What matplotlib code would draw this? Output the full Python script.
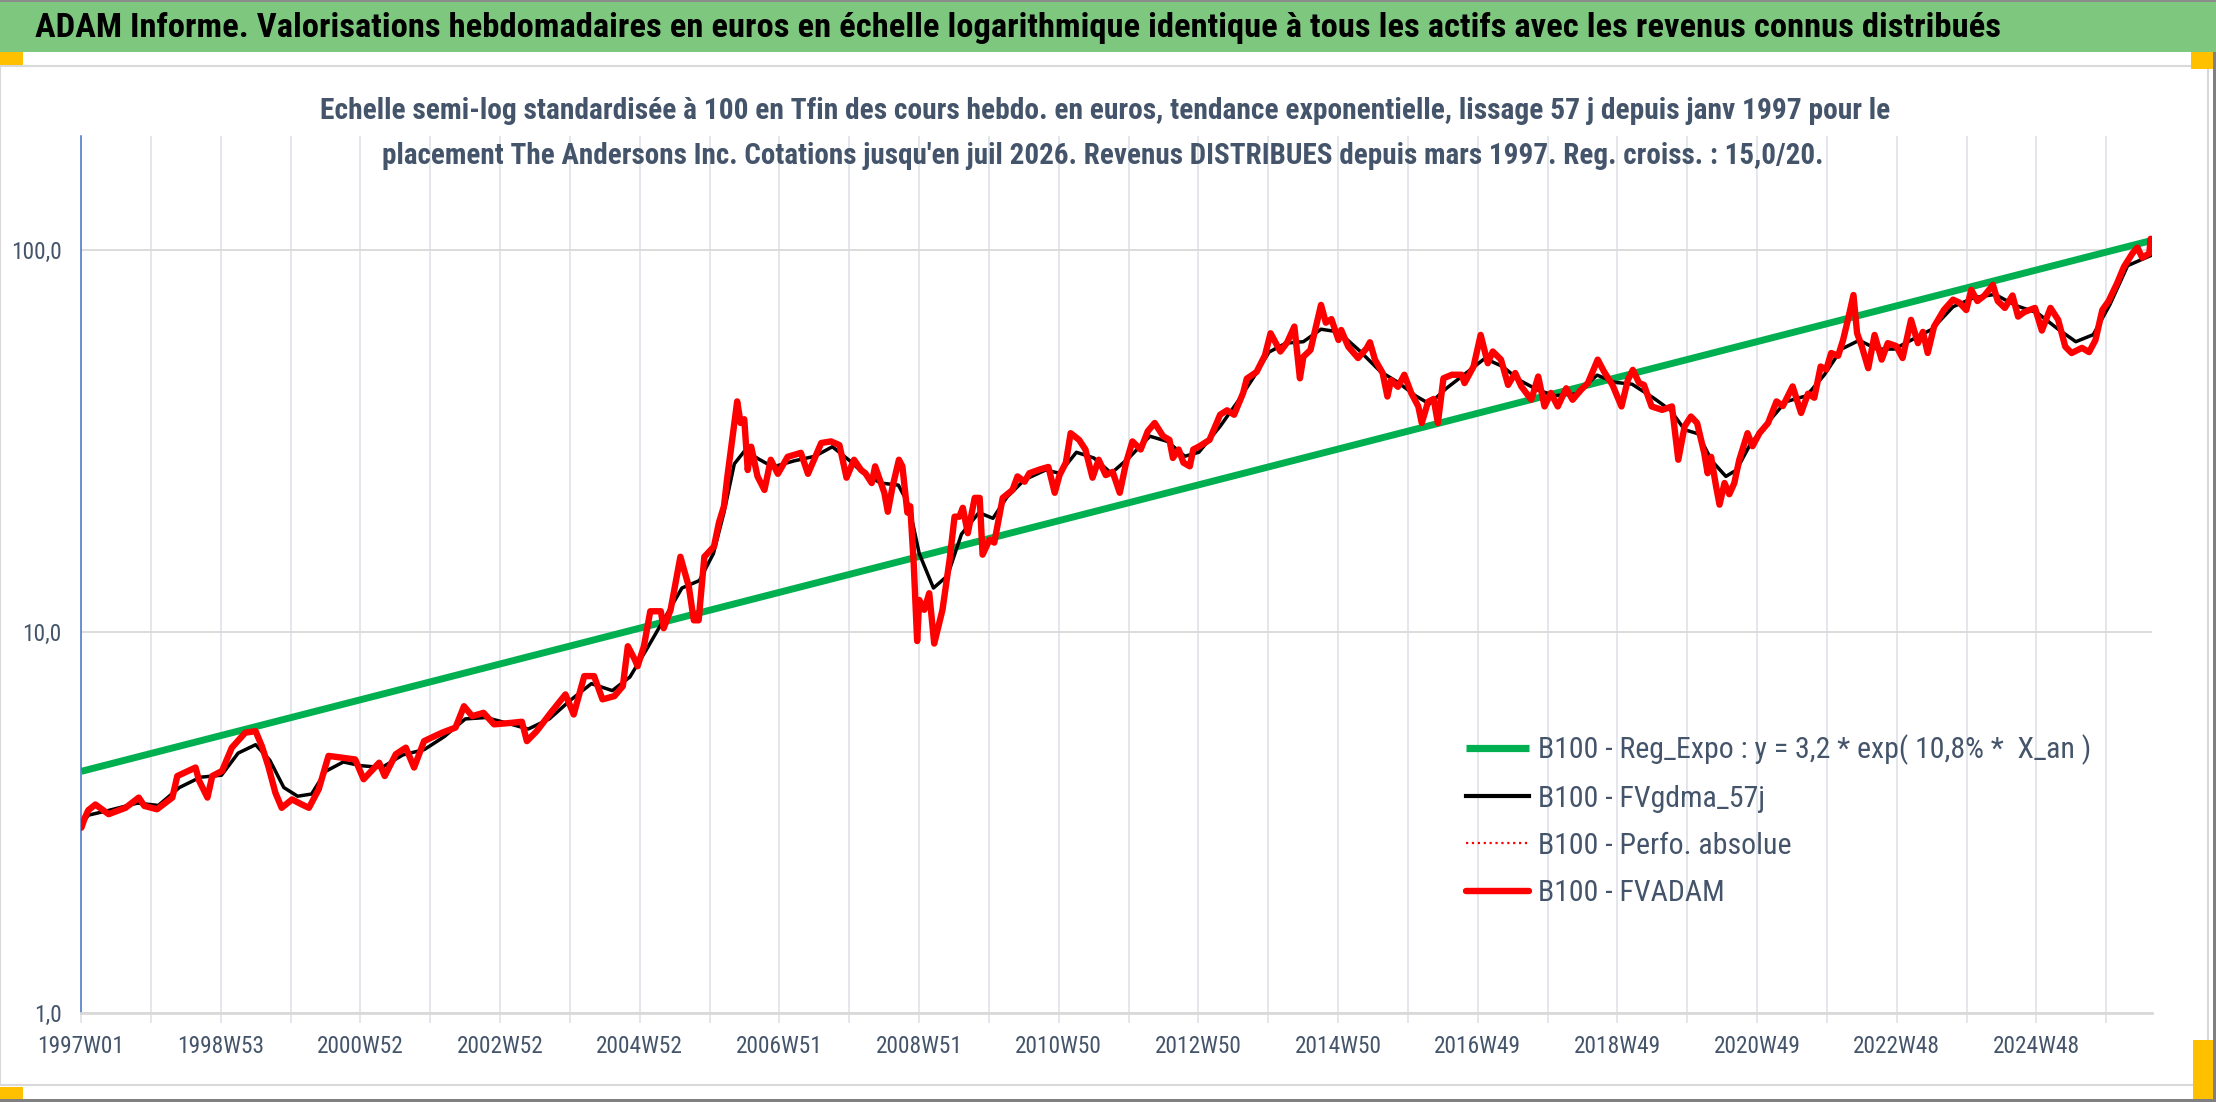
import numpy as np
import pandas as pd
import matplotlib
matplotlib.use("Agg")
import matplotlib.pyplot as plt
import matplotlib.font_manager as fm
from matplotlib.patches import Rectangle
from matplotlib.ticker import NullLocator

# ---- data (decimal years, base 100 at the end) ----
red_year = [
    1997.00, 1997.05, 1997.10, 1997.20, 1997.39, 1997.63, 1997.82, 1997.90, 1998.08, 1998.30, 1998.37, 1998.63, 1998.68, 1998.80, 1998.87,
    1999.01, 1999.15, 1999.34, 1999.49, 1999.58, 1999.67, 1999.77, 1999.86, 2000.01, 2000.15, 2000.25, 2000.39, 2000.53, 2000.72, 2000.91,
    2001.03, 2001.25, 2001.33, 2001.49, 2001.63, 2001.75, 2001.89, 2002.15, 2002.34, 2002.46, 2002.58, 2002.74, 2002.89,
    2003.13, 2003.29, 2003.36, 2003.50, 2003.70, 2003.91, 2004.03, 2004.18, 2004.32, 2004.44, 2004.61, 2004.73, 2004.80, 2004.90, 2004.94,
    2005.03, 2005.12, 2005.27, 2005.31, 2005.41, 2005.55, 2005.67, 2005.74, 2005.81, 2005.89,
    2006.03, 2006.10, 2006.17, 2006.22, 2006.32, 2006.36, 2006.41, 2006.46, 2006.51, 2006.56, 2006.65, 2006.75, 2006.84, 2006.94,
    2007.08, 2007.27, 2007.37, 2007.56, 2007.70, 2007.82, 2007.92,
    2008.03, 2008.13, 2008.19, 2008.28, 2008.33, 2008.46, 2008.51, 2008.58, 2008.67, 2008.72, 2008.79, 2008.83, 2008.88, 2008.93, 2008.96,
    2009.03, 2009.10, 2009.17, 2009.29, 2009.39, 2009.46, 2009.53, 2009.58, 2009.65, 2009.75, 2009.82, 2009.86, 2009.96,
    2010.03, 2010.15, 2010.29, 2010.36, 2010.46, 2010.53, 2010.68, 2010.80, 2010.89, 2010.96,
    2011.05, 2011.12, 2011.24, 2011.33, 2011.43, 2011.52, 2011.62, 2011.72, 2011.82, 2011.91,
    2012.00, 2012.12, 2012.22, 2012.32, 2012.44, 2012.53, 2012.58, 2012.66, 2012.73, 2012.82, 2012.87, 2012.96,
    2013.10, 2013.25, 2013.35, 2013.45, 2013.58, 2013.63, 2013.77, 2013.89, 2013.97,
    2014.11, 2014.21, 2014.31, 2014.39, 2014.44, 2014.54, 2014.69, 2014.76, 2014.84, 2014.94, 2014.98,
    2015.08, 2015.22, 2015.34, 2015.39, 2015.46, 2015.57, 2015.64, 2015.69, 2015.79, 2015.88, 2015.98,
    2016.08, 2016.13, 2016.22, 2016.30, 2016.36, 2016.44, 2016.56, 2016.70, 2016.74, 2016.87, 2016.97,
    2017.07, 2017.14, 2017.26, 2017.36, 2017.46, 2017.55, 2017.69, 2017.79, 2017.88, 2017.97,
    2018.07, 2018.19, 2018.28, 2018.40, 2018.50, 2018.64, 2018.73, 2018.85, 2018.98,
    2019.07, 2019.14, 2019.23, 2019.30, 2019.41, 2019.56, 2019.70, 2019.79, 2019.88, 2019.97,
    2020.06, 2020.16, 2020.21, 2020.26, 2020.33, 2020.38, 2020.45, 2020.52, 2020.59, 2020.66, 2020.78, 2020.85, 2020.95,
    2021.07, 2021.19, 2021.28, 2021.42, 2021.54, 2021.64, 2021.73, 2021.82, 2021.90, 2021.97,
    2022.07, 2022.14, 2022.22, 2022.29, 2022.34, 2022.41, 2022.50, 2022.59, 2022.69, 2022.78, 2022.90, 2022.99,
    2023.11, 2023.21, 2023.28, 2023.35, 2023.44, 2023.58, 2023.71, 2023.80, 2023.90, 2023.97,
    2024.06, 2024.16, 2024.28, 2024.35, 2024.45, 2024.56, 2024.64, 2024.73, 2024.88, 2024.98,
    2025.10, 2025.21, 2025.31, 2025.40, 2025.55, 2025.65, 2025.74, 2025.84, 2025.93,
    2026.05, 2026.15, 2026.27, 2026.34, 2026.41, 2026.51, 2026.53, 2026.55,
]
red_value = [
    3.06, 3.25, 3.40, 3.52, 3.32, 3.45, 3.67, 3.49, 3.42, 3.67, 4.18, 4.40, 4.07, 3.67, 4.18,
    4.31, 4.96, 5.43, 5.48, 5.00, 4.44, 3.78, 3.45, 3.63, 3.52, 3.45, 3.86, 4.72, 4.67, 4.62,
    4.10, 4.53, 4.18, 4.77, 4.96, 4.40, 5.16, 5.43, 5.60, 6.37, 6.00, 6.12, 5.71,
    5.76, 5.80, 5.16, 5.48, 6.12, 6.84, 6.06, 7.64, 7.64, 6.64, 6.77, 7.19, 9.15, 8.45, 8.11,
    9.15, 11.3, 11.3, 10.2, 11.4, 15.7, 13.1, 10.7, 10.7, 15.7,
    16.7, 19.3, 21.3, 25.5, 35.2, 40.1, 35.2, 36.0, 26.5, 30.5, 25.5, 23.5, 28.2, 25.9,
    28.7, 29.4, 25.9, 31.2, 31.5, 30.8, 25.3,
    28.2, 26.5, 26.0, 24.5, 27.1, 23.1, 20.6, 24.0, 28.2, 27.1, 20.5, 21.3, 15.1, 9.44, 12.1,
    11.4, 12.6, 9.3, 11.4, 15.4, 20.0, 20.0, 21.1, 18.1, 22.4, 22.4, 15.9, 17.4,
    17.1, 22.4, 23.5, 25.5, 24.7, 26.0, 26.6, 27.0, 23.1, 25.7,
    27.7, 33.1, 31.8, 30.0, 25.3, 28.2, 25.7, 26.2, 23.1, 27.7,
    31.5, 30.0, 33.5, 35.2, 32.5, 31.8, 28.5, 30.0, 27.7, 27.1, 30.0, 30.6,
    31.8, 37.0, 38.0, 37.0, 42.2, 46.0, 47.9, 53.0, 60.5,
    54.2, 57.3, 63.0, 46.1, 52.5, 54.7, 71.8, 64.5, 65.9, 58.1, 61.7,
    55.8, 52.1, 55.2, 57.3, 51.6, 47.6, 41.3, 45.6, 43.8, 47.1, 42.2,
    38.9, 35.2, 40.0, 40.7, 35.2, 46.1, 47.1, 47.1, 44.8, 49.5, 59.9,
    50.5, 54.2, 51.6, 44.3, 47.6, 43.9, 40.5, 46.6, 38.9, 42.2,
    38.9, 43.4, 40.5, 43.0, 44.8, 51.6, 48.0, 44.3, 38.9,
    45.6, 48.5, 44.8, 44.3, 38.9, 38.1, 38.9, 28.2, 34.5, 36.6,
    35.2, 29.4, 26.0, 28.7, 24.0, 21.5, 24.5, 22.9, 24.5, 28.2, 33.1, 30.6, 33.1,
    35.2, 40.1, 39.0, 43.9, 37.4, 42.0, 41.0, 49.5, 48.6, 53.7,
    52.8, 58.1, 66.9, 76.2, 60.5, 55.8, 49.0, 59.9, 51.6, 57.0, 56.0, 52.1,
    65.6, 57.0, 61.0, 53.7, 63.0, 69.6, 74.1, 72.8, 69.6, 78.6,
    73.5, 76.0, 81.0, 73.5, 70.5, 76.0, 66.9, 68.8, 70.5, 61.5,
    70.5, 65.6, 55.8, 53.7, 55.4, 54.0, 58.0, 69.6, 73.5,
    81.8, 90.4, 98.0, 101.5, 95.5, 98.0, 107.0, 100.0,
]

black_year = [
    1997.00, 1997.10, 1997.40, 1997.80, 1998.10, 1998.40, 1998.70, 1999.00, 1999.24, 1999.49, 1999.69, 1999.89,
    2000.09, 2000.29, 2000.49, 2000.74, 2000.99, 2001.29, 2001.59, 2001.89, 2002.18, 2002.48, 2002.78,
    2003.08, 2003.38, 2003.68, 2003.98, 2004.28, 2004.58, 2004.83, 2005.07, 2005.32, 2005.57, 2005.82,
    2006.02, 2006.17, 2006.32, 2006.47, 2006.67, 2006.87, 2007.17, 2007.47, 2007.72, 2007.97,
    2008.16, 2008.41, 2008.66, 2008.81, 2008.96, 2009.16, 2009.36, 2009.56, 2009.81, 2010.01, 2010.21, 2010.46, 2010.76, 2010.96,
    2011.20, 2011.45, 2011.70, 2011.95, 2012.25, 2012.50, 2012.75, 2012.95, 2013.25, 2013.50, 2013.75, 2013.95,
    2014.19, 2014.44, 2014.69, 2014.94, 2015.24, 2015.54, 2015.79, 2016.04, 2016.24, 2016.49, 2016.79,
    2017.03, 2017.28, 2017.53, 2017.78, 2018.03, 2018.33, 2018.63, 2018.88, 2019.13, 2019.43, 2019.68, 2019.88,
    2020.07, 2020.27, 2020.47, 2020.62, 2020.82, 2021.02, 2021.32, 2021.62, 2021.87, 2022.12, 2022.37, 2022.62, 2022.87,
    2023.11, 2023.41, 2023.71, 2024.01, 2024.31, 2024.61, 2024.91, 2025.21, 2025.46, 2025.71, 2025.95, 2026.20, 2026.55,
]
black_value = [
    3.10, 3.30, 3.40, 3.55, 3.50, 3.90, 4.15, 4.20, 4.80, 5.05, 4.60, 3.90,
    3.70, 3.75, 4.30, 4.55, 4.45, 4.40, 4.75, 4.90, 5.30, 5.90, 5.95,
    5.75, 5.55, 5.90, 6.60, 7.30, 7.00, 7.60, 9.00, 10.8, 13.0, 13.6,
    16.0, 20.5, 27.5, 29.8, 28.3, 27.0, 28.0, 28.8, 30.5, 28.0,
    26.0, 24.5, 24.2, 21.5, 16.0, 13.0, 14.0, 18.0, 20.5, 19.8, 22.5, 25.0, 26.5, 26.0,
    29.5, 28.5, 26.0, 28.5, 32.5, 31.5, 28.8, 29.5, 34.5, 40.0, 47.0, 54.0,
    57.0, 57.5, 62.0, 61.0, 54.5, 48.0, 45.0, 41.5, 39.5, 43.5, 48.0,
    52.0, 49.5, 45.5, 43.0, 41.5, 42.0, 47.0, 45.0, 44.5, 41.0, 38.0, 33.8,
    33.0, 28.0, 25.5, 26.5, 31.0, 34.5, 40.0, 41.5, 47.0, 55.0, 58.0, 55.0, 55.0,
    58.0, 62.0, 71.0, 75.0, 76.5, 71.5, 68.5, 62.0, 57.5, 60.0, 72.0, 91.0, 97.0,
]

# exponential trend: start and end values read on the chart
green_year = [1997.00, 2026.55]
green_value = [4.3, 106.0]

title = ("ADAM Informe. Valorisations hebdomadaires en euros en échelle logarithmique "
         "identique à tous les actifs avec les revenus connus distribués")
subtitle_1 = ("Echelle semi-log standardisée à 100 en Tfin des cours hebdo. en euros, tendance "
              "exponentielle, lissage 57 j depuis janv 1997 pour le")
subtitle_2 = ("placement The Andersons Inc. Cotations jusqu'en juil 2026. Revenus DISTRIBUES "
              "depuis mars 1997. Reg. croiss. : 15,0/20.")
legend_labels = ["B100 - Reg_Expo : y = 3,2 * exp( 10,8% *  X_an )",
                 "B100 - FVgdma_57j",
                 "B100 - Perfo. absolue",
                 "B100 - FVADAM"]

# pick a narrow font if one is installed (the original uses Calibri)
entries = fm.fontManager.ttflist
font_name, font_stretch = "Liberation Sans", "normal"
for want in ["Liberation Sans Narrow", "Roboto Condensed", "Open Sans Condensed", "Noto Sans", "DejaVu Sans"]:
    found = [f for f in entries if f.name == want and
             (want.endswith(("Narrow", "Condensed")) or str(f.stretch) in ("condensed", "semi-condensed"))]
    if found:
        font_name, font_stretch = want, str(found[0].stretch)
        break
plt.rcParams["font.family"] = [font_name, "DejaVu Sans"]
plt.rcParams["font.stretch"] = font_stretch

# weekly categories (ISO weeks) from 1997W01 to 2026W30
weeks = pd.date_range("1996-12-30", "2026-07-20", freq="7D")
week_labels = ["%dW%02d" % (d.isocalendar()[0], d.isocalendar()[1]) for d in weeks]


def to_week(years):
    out = []
    for yr in years:
        y = int(yr)
        d = pd.Timestamp(year=y, month=1, day=1) + pd.Timedelta(days=(yr - y) * 365.25)
        out.append((d - weeks[0]).days / 7.0)
    return np.array(out)


W, H = 2216, 1102
fig = plt.figure(figsize=(W / 100, H / 100), dpi=100)
renderer = fig.canvas.get_renderer()
txt_col = "#44546A"


def fit_size(s, target_px, weight="normal", base=20.0):
    t = fig.text(0, 0, s, fontsize=base, fontweight=weight)
    w = t.get_window_extent(renderer).width
    t.remove()
    return base * target_px / w


# frame decorations (title band, chart border, selection handles)
fig.patches.append(Rectangle((0, (H - 52) / H), 1, 52 / H, transform=fig.transFigure,
                             facecolor="#7DC87E", edgecolor="none"))
fig.patches.append(Rectangle((0, (H - 2) / H), 1, 2 / H, transform=fig.transFigure,
                             facecolor="#8C8C8C", edgecolor="none"))
fig.patches.append(Rectangle((0, (H - 1085) / H), 2208 / W, (1085 - 66) / H, transform=fig.transFigure,
                             facecolor="none", edgecolor="#D9D9D9", lw=1.5))
fig.patches.append(Rectangle((2213 / W, 0), 3 / W, (H - 52) / H, transform=fig.transFigure,
                             facecolor="#7F7F7F", edgecolor="none"))
fig.patches.append(Rectangle((0, 0), 1, 3 / H, transform=fig.transFigure,
                             facecolor="#7F7F7F", edgecolor="none"))
for (x0, y0, x1, y1) in [(0, 52, 23, 65), (2191, 52, 2213, 69), (0, 1087, 23, 1099), (2193, 1040, 2213, 1099)]:
    fig.patches.append(Rectangle((x0 / W, (H - y1) / H), (x1 - x0) / W, (y1 - y0) / H,
                                 transform=fig.transFigure, facecolor="#FFC000", edgecolor="none"))

ax = fig.add_axes([81 / W, (H - 1013) / H, (2152 - 81) / W, (1013 - 136) / H])
ax.set_yscale("log")
ax.set_ylim(1, 199)
ax.set_xlim(0, len(weeks) - 1)

ax.plot(to_week(green_year), green_value, color="#00B050", lw=5.0, zorder=3,
        solid_capstyle="butt", label=legend_labels[0])
ax.plot(to_week(black_year), black_value, color="black", lw=2.5, zorder=4,
        solid_joinstyle="round", label=legend_labels[1])
ax.plot(to_week(red_year), red_value, color="red", lw=1.5, ls=":", zorder=4.5, label=legend_labels[2])
ax.plot(to_week(red_year), red_value, color="red", lw=4.6, zorder=5,
        solid_joinstyle="round", solid_capstyle="round", label=legend_labels[3])

# axes styling
tick_size = fit_size("1997W01", 87)
ax.set_yticks([1, 10, 100])
ax.set_yticklabels(["1,0", "10,0", "100,0"])
ax.yaxis.set_minor_locator(NullLocator())
grid_pos = list(range(0, len(weeks), 52))
ax.set_xticks(grid_pos)
ax.set_xticklabels([week_labels[i] if i % 104 == 0 else "" for i in grid_pos])
ax.grid(True, axis="x", color="#E1E5EA", lw=1.3, zorder=0)
ax.grid(True, axis="y", color="#D9D9D9", lw=1.3, zorder=0)
ax.tick_params(axis="x", length=7, width=1.3, color="#E1E5EA", labelcolor=txt_col,
               labelsize=tick_size, pad=9)
ax.tick_params(axis="y", length=0, labelcolor=txt_col, labelsize=tick_size, pad=14)
for s in ["top", "right"]:
    ax.spines[s].set_visible(False)
ax.spines["left"].set_color("#4472C4")
ax.spines["left"].set_linewidth(1.1)
ax.spines["bottom"].set_color("#D9D9D9")
ax.spines["bottom"].set_linewidth(2.0)

# legend: size from the width of its first label, row pitch about 48 px
leg_size = fit_size(legend_labels[0], 554)
spacing = 0.6
top_px = 734
for _ in range(3):
    leg = ax.legend(loc="upper left", bbox_to_anchor=(1466 / W, (H - top_px) / H),
                    bbox_transform=fig.transFigure, frameon=False, fontsize=leg_size,
                    handlelength=63 / (leg_size * 100 / 72), handletextpad=0.3,
                    labelspacing=spacing, borderpad=0, borderaxespad=0)
    fig.canvas.draw()
    ys = [H - t.get_window_extent(renderer).y0 - t.get_window_extent(renderer).height / 2
          for t in leg.get_texts()]
    pitch = (ys[3] - ys[0]) / 3
    spacing += (47.7 - pitch) / (leg_size * 100 / 72)
    top_px += 750 - ys[0]
for t in leg.get_texts():
    t.set_color(txt_col)
leg.get_lines()[0].set_linewidth(5.2)
leg.get_lines()[1].set_linewidth(3.0)
leg.get_lines()[2].set_linewidth(1.6)
leg.get_lines()[3].set_linewidth(4.6)

# texts, sized to the widths they take in the reference
fig.text(35 / W, 1 - 28 / H, title, fontsize=fit_size(title, 1953, "bold"), fontweight="bold",
         color="black", ha="left", va="center")
fig.text(1105 / W, 1 - 111 / H, subtitle_1, fontsize=fit_size(subtitle_1, 1568, "bold"),
         fontweight="bold", color=txt_col, ha="center", va="center")
fig.text(1103 / W, 1 - 156 / H, subtitle_2, fontsize=fit_size(subtitle_2, 1438, "bold"),
         fontweight="bold", color=txt_col, ha="center", va="center")

fig.savefig("out.png", dpi=100, facecolor="white")
